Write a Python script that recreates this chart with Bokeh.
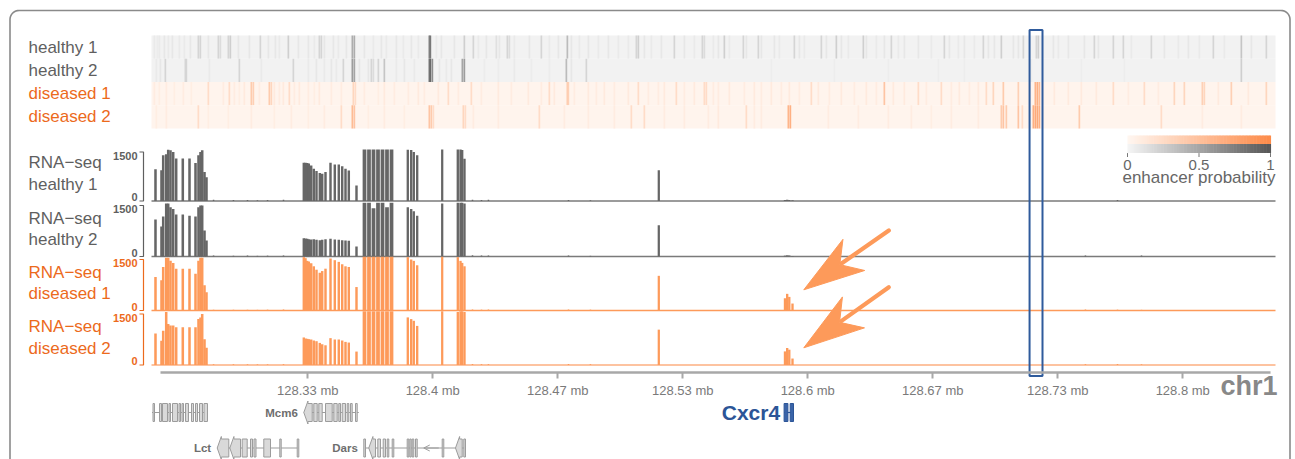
import numpy as np
from bokeh.plotting import figure
from bokeh.models import (Range1d, LinearAxis, FixedTicker, ColumnDataSource,
                          Arrow, OpenHead, CustomJSTickFormatter)
from bokeh.transform import linear_cmap
from bokeh.core.properties import value
from bokeh.embed import file_html
from bokeh.resources import INLINE

# ============================ DATA ============================
chrom_label = "chr1"
region_start_mb = 128.25
heat_bin_kb = 600.0 / 1125          # enhancer-probability bin size
heat_n_bins = 1124

tick_mb = [128.33333, 128.4, 128.46667, 128.53333, 128.6, 128.66667, 128.73333, 128.8]
tick_labels = ["128.33 mb", "128.4 mb", "128.47 mb", "128.53 mb",
               "128.6 mb", "128.67 mb", "128.73 mb", "128.8 mb"]

heat_labels = ["healthy 1", "healthy 2", "diseased 1", "diseased 2"]
# (bin, enhancer probability)
heat_healthy1 = [(2,.07),(5,.06),(7,.07),(12,.09),(16,.07),(20,.09),(27,.07),(32,.07),(38,.09),(46,.2),(48,.2),(56,.09),(66,.2),(68,.16),(76,.2),(78,.24),(86,.09),(97,.09),(108,.2),(116,.09),(123,.09),(127,.07),(136,.24),(146,.09),(156,.09),(162,.07),(167,.2),(169,.2),(172,.09),(181,.09),(186,.07),(194,.09),(200,.45),(202,.45),(212,.09),(221,.07),(229,.09),(234,.07),(244,.09),(251,.07),(259,.09),(266,.07),(277,.72),(278,.78),
    (284,.07),(289,.09),(302,.09),(312,.24),(321,.2),(326,.07),(334,.09),(344,.13),(347,.09),(355,.2),(357,.16),(362,.07),(377,.09),(389,.2),(397,.07),(406,.09),(415,.36),(419,.09),(427,.07),(436,.09),(446,.07),(456,.09),(466,.07),(476,.07),(484,.2),(486,.24),(492,.09),(499,.07),(509,.09),(522,.2),(532,.09),(542,.07),(550,.2),(552,.16),(561,.07),
    (566,.09),(572,.24),(577,.07),(591,.2),(594,.09),(606,.2),(609,.09),(622,.09),(627,.07),(642,.2),(647,.09),(652,.07),(669,.2),(674,.09),(684,.24),(689,.09),(696,.07),(711,.24),(714,.09),(724,.07),(732,.09),(739,.2),(746,.07),(752,.09),(766,.09),(779,.07),(792,.2),(797,.09),(806,.07),(812,.09),(822,.07),(831,.2),(836,.09),
    (842,.09),(849,.24),(861,.09),(866,.09),(871,.2),(884,.2),(886,.24),(901,.09),(906,.07),(916,.09),(932,.09),(942,.2),(946,.09),(961,.2),(971,.2),(979,.07),(999,.2),(1012,.09),(1026,.07),(1036,.09),(1047,.07),(1061,.2),(1072,.07),(1089,.3),(1099,.09),(1114,.2)]
heat_healthy2 = [(4,.07),(8,.09),(13,.2),(33,.2),(34,.2),(57,.07),(87,.2),(109,.07),(141,.2),(156,.07),(164,.09),(172,.07),(179,.09),(184,.07),(191,.2),(200,.55),(202,.5),(207,.09),(216,.09),(219,.2),(221,.16),(226,.2),(232,.3),(244,.07),(252,.09),(262,.07),(277,.78),(278,.88),(280,.65),
    (287,.09),(294,.07),(299,.09),(310,.5),(312,.55),(332,.06),(346,.06),(362,.07),(379,.06),(397,.06),(414,.36),(419,.09),(434,.2),
    (619,.05),(682,.05),(736,.05),(786,.05),(812,.05),(879,.05),(929,.05),(972,.05),(1089,.24)]
heat_diseased1 = [(2,.09),(7,.08),(14,.09),(22,.08),(31,.09),(39,.08),(56,.24),(71,.09),(77,.24),(82,.09),(87,.08),(92,.11),(99,.4),(101,.35),(107,.09),(117,.4),(119,.3),(122,.11),(127,.09),(131,.11),(137,.24),(142,.09),(147,.11),(156,.09),(162,.08),(167,.11),(179,.09),(189,.09),(201,.3),(203,.24),(212,.09),(226,.08),(232,.11),(242,.09),(256,.09),(266,.11),(272,.09),
    (286,.11),(296,.24),(306,.09),(319,.24),(329,.09),(346,.11),(359,.09),(376,.11),(389,.09),(397,.24),(402,.11),(415,.4),(416,.35),(422,.09),(436,.11),(444,.09),(452,.11),(462,.09),(476,.11),(486,.24),(496,.09),(506,.09),(512,.11),(524,.24),(532,.09),(542,.11),(552,.24),(554,.24),(561,.09),
    (566,.09),(577,.11),(592,.09),(602,.11),(609,.09),(619,.11),(629,.09),(637,.11),(647,.09),(659,.24),(666,.11),(677,.09),(689,.11),(702,.09),(714,.11),(724,.09),(732,.46),(741,.11),(752,.11),(766,.24),(774,.09),(789,.24),(799,.09),(807,.11),(817,.09),(826,.11),(834,.24),
    (841,.3),(851,.4),(866,.35),(883,.6),(885,.65),(887,.55),(902,.11),(916,.11),(929,.11),(944,.11),(961,.24),(976,.09),(992,.24),(1006,.09),(1022,.3),(1032,.3),(1050,.35),(1052,.3),(1066,.11),(1079,.35),(1096,.11),(1114,.3)]
heat_diseased2 = [(4,.08),(14,.09),(46,.24),(56,.08),(76,.08),(99,.09),(122,.08),(139,.09),(156,.08),(172,.09),(189,.24),(200,.55),(202,.46),(216,.08),(232,.09),(252,.08),(277,.46),(279,.4),
    (281,.24),(311,.3),(313,.24),(321,.09),(346,.09),(387,.24),(412,.09),(436,.09),(462,.09),(479,.24),(492,.24),(512,.09),(532,.09),(556,.09),(566,.11),
    (594,.24),(602,.09),(609,.09),(636,.6),(638,.65),(676,.09),(706,.09),(736,.09),(759,.09),(779,.08),(799,.09),(826,.09),
    (849,.4),(851,.46),(854,.4),(866,.46),(870,.24),(881,.65),(883,.7),(885,.7),(887,.65),(927,.4),(1009,.24),(1050,.09),(1089,.09)]

highlight_kb = (468.3, 475.2)

rna_labels = [("RNA\u2212seq", "healthy 1"), ("RNA\u2212seq", "healthy 2"),
              ("RNA\u2212seq", "diseased 1"), ("RNA\u2212seq", "diseased 2")]
exon_center_kb = [2.13, 5.33, 6.24, 7.84, 8.91, 10.13, 11.57, 13.17, 16.69, 20.27, 23.47, 25.07, 26.13, 27.04, 28.27, 29.33,
                  81.23, 82.13, 83.04, 83.89, 85.17, 86.56, 88.0, 89.76, 91.04, 92.8, 95.47, 97.76, 99.89, 101.71, 103.47, 105.23, 109.33,
                  113.6, 116.0, 118.4, 120.8, 123.2, 125.6, 128.0,
                  136.69, 138.5, 139.89, 141.7,
                  155.04,
                  163.36, 164.8, 165.7, 166.93,
                  270.56,
                  337.86, 339.03, 340.15, 341.87]
exon_width_kb = [1.35]*16 + [1.3]*17 + [2.0]*7 + [1.25]*4 + [1.2] + [1.25]*4 + [1.2] + [1.25]*4
rna_healthy1 = [970, 940, 1400, 1430, 1570, 1550, 1500, 1300, 1300, 1300, 1160, 1400, 1500, 1550, 885, 730,
                1170, 1170, 1160, 1150, 1090, 990, 915, 855, 835, 885, 1170, 1120, 1120, 1060, 990, 935, 475,
                1580, 1580, 1580, 1580, 1580, 1580, 1580,
                1570, 1560, 1500, 1400,
                1580,
                1580, 1580, 1560, 1290,
                940,
                30, 40, 30, 20]
rna_healthy2 = [1090, 880, 1180, 1560, 1560, 1450, 1400, 1235, 1235, 1200, 1180, 1450, 1500, 1500, 765, 470,
                540, 530, 520, 510, 500, 510, 490, 480, 490, 510, 520, 500, 490, 480, 470, 460, 295,
                1580, 1580, 1420, 1580, 1580, 1450, 1580,
                1450, 1400, 1330, 1200,
                1560,
                1580, 1580, 1580, 1560,
                920,
                25, 35, 30, 15]
rna_diseased1 = [985, 890, 1280, 1550, 1550, 1460, 1400, 1230, 1230, 1230, 1080, 1460, 1550, 1550, 740, 540,
                 1570, 1540, 1460, 1440, 1390, 1300, 1200, 1110, 1160, 1230, 1530, 1480, 1430, 1360, 1300, 1280, 690,
                 1580, 1580, 1580, 1580, 1580, 1580, 1580,
                 1570, 1500, 1460, 1330,
                 1580,
                 1570, 1460, 1400, 1300,
                 1020,
                 360, 490, 400, 205]
rna_diseased2 = [925, 710, 1005, 1560, 1205, 1160, 1160, 1110, 1110, 1110, 1110, 1350, 1400, 1500, 760, 510,
                 810, 780, 770, 760, 750, 720, 700, 650, 610, 580, 790, 750, 750, 720, 680, 660, 395,
                 1580, 1580, 1580, 1580, 1580, 1580, 1580,
                 1400, 1350, 1300, 1150,
                 1580,
                 1560, 1580, 1580, 1560,
                 1040,
                 400, 500, 450, 190]
low_kb = [33.1, 43.7, 51.2, 56.5, 61.9, 70.4, 171.2, 176.0, 179.7, 222.4, 234.1, 498.1, 515.2, 528.0]
low_healthy1 = [35, 30, 30, 25, 30, 35, 40, 30, 35, 30, 25, 0, 30, 0]
low_healthy2 = [30, 25, 30, 20, 25, 30, 35, 30, 30, 30, 20, 30, 0, 30]
low_diseased1 = [25, 20, 25, 20, 25, 30, 30, 25, 30, 30, 25, 30, 25, 20]
low_diseased2 = [25, 20, 25, 20, 20, 25, 30, 25, 25, 30, 25, 25, 30, 20]

gene_names = ["", "Mcm6", "Lct", "Dars", "Cxcr4"]
gene_row = [0, 0, 1, 1, 0]
gene_span_kb = [(0.27, 29.87), (81.23, 110.56), (35.04, 78.56), (113.23, 167.47), (337.39, 342.4)]
gene_exons_kb = [
    [(0.8, 1.6), (4.27, 5.33), (5.87, 8.53), (9.33, 10.13), (11.2, 13.87), (14.67, 15.47), (16.27, 17.07),
     (18.13, 19.73), (21.33, 22.4), (23.47, 24.53), (25.6, 27.2), (28.0, 29.87)],
    [(81.23, 85.71), (86.56, 88.37), (89.23, 91.04), (92.8, 96.37), (97.23, 99.04), (99.89, 100.8),
     (101.71, 103.47), (104.37, 105.23), (106.13, 107.04), (108.8, 109.71)],
    [(35.04, 41.23), (41.76, 47.47), (48.37, 51.04), (52.8, 53.87), (54.67, 55.73), (59.89, 63.47),
     (68.43, 69.17), (77.71, 78.56)],
    [(113.23, 114.13), (115.89, 119.47), (120.69, 122.13), (123.57, 124.8), (125.71, 126.56), (128.37, 129.23),
     (136.37, 137.23), (137.76, 138.5), (139.04, 139.89), (140.8, 141.71), (155.04, 155.89), (162.13, 165.71),
     (166.56, 167.47)],
    [(337.39, 339.41), (340.64, 342.4)],
]
gene_arrow_exons = [[], [0], [0, 1], [1, 11], []]
dars_strand_arrow_kb = (153.2, 145.2)

# ============================ LAYOUT / STYLE ============================
W, H = 1295, 459
PX_PER_MB = 1875.0
X0_PAGE = 151
FONT = value("Liberation Sans")
GREY_TXT = "#5f5f5f"
ORANGE_TXT = "#ec6a1c"
GREY_BAR = "#666666"
ORANGE_BAR = "#fd9a5a"


def mb(kb):
    return region_start_mb + np.asarray(kb, dtype=float) / 1000.0


def ramp(c0, c1, n=256):
    a = np.array([int(c0[i:i + 2], 16) for i in (1, 3, 5)], dtype=float)
    b = np.array([int(c1[i:i + 2], 16) for i in (1, 3, 5)], dtype=float)
    return ["#%02x%02x%02x" % tuple(np.round(a + (b - a) * t).astype(int)) for t in np.linspace(0, 1, n)]


grey_pal = ramp("#f5f5f5", "#555555")
orange_pal = ramp("#fff6f0", "#fd8a48")

x_start = region_start_mb - X0_PAGE / PX_PER_MB
p = figure(width=W, height=H, output_backend="svg", toolbar_location=None,
           x_axis_type=None, y_axis_type=None,
           x_range=Range1d(x_start, x_start + W / PX_PER_MB), y_range=Range1d(H, 0),
           min_border=0, outline_line_color=None,
           background_fill_color="white", border_fill_color="white")

heat_top, heat_bot = 35.0, 128.0
row_h = (heat_bot - heat_top) / 4
track_base = [200.5, 256.0, 310.0, 364.5]
track_h1500 = [49.0, 51.0, 51.0, 51.0]
extra_y = {"heat": Range1d(start=(heat_bot - H) / row_h, end=heat_bot / row_h)}
for i, (b, h) in enumerate(zip(track_base, track_h1500)):
    u = 1500.0 / h
    extra_y[f"t{i}"] = Range1d(start=(b - H) * u, end=b * u)
p.extra_y_ranges = extra_y
cb_left, cb_w = 1127.0, 143.0
p.extra_x_ranges = {"px": Range1d(0, W),
                    "cb": Range1d(-cb_left / cb_w, (W - cb_left) / cb_w)}

# ---------------- heatmap ----------------
heat_rows = [heat_healthy1, heat_healthy2, heat_diseased1, heat_diseased2]
pals = [grey_pal, grey_pal, orange_pal, orange_pal]
for r, (stripes, pal) in enumerate(zip(heat_rows, pals)):
    ri = 3 - r
    bins = [s[0] for s in stripes]
    vals = [s[1] for s in stripes]
    src = ColumnDataSource(dict(
        left=list(mb(np.array([0] + bins) * heat_bin_kb)),
        right=list(mb(np.array([heat_n_bins] + [b + 1.7 for b in bins]) * heat_bin_kb)),
        bottom=[ri] * (len(bins) + 1), top=[ri + 1] * (len(bins) + 1),
        v=[0.02] + vals))
    p.quad(left="left", right="right", bottom="bottom", top="top", source=src,
           y_range_name="heat", line_color=None,
           fill_color=linear_cmap("v", pal, 0, 1))
    p.text(x=[28], y=[ri + 0.5], text=[heat_labels[r]], x_range_name="px", y_range_name="heat",
           text_font=FONT, text_font_size="17px", text_baseline="middle",
           text_color=GREY_TXT if r < 2 else ORANGE_TXT)

# ---------------- colour legend ----------------
steps = np.linspace(0, 1, 101)
mids = (steps[:-1] + steps[1:]) / 2
for (y0, y1, pal) in [(135.0, 143.6, orange_pal), (143.6, 152.6, grey_pal)]:
    p.quad(left=list(steps[:-1]), right=list(steps[1:] + 0.004), top=[y0] * 100, bottom=[y1] * 100,
           fill_color=[pal[int(m * 255)] for m in mids], line_color=None, x_range_name="cb")
p.segment(x0=[0, 0.5, 1], x1=[0, 0.5, 1], y0=[152.6] * 3, y1=[156.5] * 3,
          line_color="#777777", line_width=1, x_range_name="cb")
p.text(x=[0, 0.5, 1], y=[164.5] * 3, text=["0", "0.5", "1"], x_range_name="cb",
       text_font=FONT, text_font_size="15px", text_align="center", text_baseline="middle",
       text_color="#666666")
p.text(x=[cb_left + cb_w / 2], y=[176.5], text=["enhancer probability"], x_range_name="px",
       text_font=FONT, text_font_size="17px", text_align="center", text_baseline="middle",
       text_color="#666666")

# ---------------- RNA-seq tracks ----------------
tracks = [rna_healthy1, rna_healthy2, rna_diseased1, rna_diseased2]
lows = [low_healthy1, low_healthy2, low_diseased1, low_diseased2]
base_cols = ["#7a7a7a", "#7a7a7a", ORANGE_BAR, "#fdc3a0"]
base_w = [1.4, 1.4, 1.4, 2.2]
c = np.array(exon_center_kb)
w = np.array(exon_width_kb)
for i, (vals, lowv) in enumerate(zip(tracks, lows)):
    yr = f"t{i}"
    col = GREY_BAR if i < 2 else ORANGE_BAR
    tcol = GREY_TXT if i < 2 else ORANGE_TXT
    p.segment(x0=[float(mb(0))], x1=[float(mb(heat_n_bins * heat_bin_kb))], y0=[0], y1=[0],
              y_range_name=yr, line_color=base_cols[i], line_width=base_w[i])
    src = ColumnDataSource(dict(left=list(mb(c - w / 2)), right=list(mb(c + w / 2)),
                                top=vals, bottom=[0] * len(vals)))
    p.quad(left="left", right="right", top="top", bottom="bottom", source=src,
           y_range_name=yr, fill_color=col, line_color=None)
    lk = np.array(low_kb)
    p.quad(left=list(mb(lk - 0.4)), right=list(mb(lk + 0.4)), top=lowv, bottom=[0] * len(lowv),
           y_range_name=yr, fill_color=col, line_color=None)
    # little y-scale bracket
    p.multi_line(xs=[[139, 143, 143, 139]], ys=[[1500, 1500, 0, 0]], x_range_name="px",
                 y_range_name=yr, line_color=tcol, line_width=1.2)
    p.text(x=[137, 137], y=[1500, 0], text=["1500", "0"], x_range_name="px", y_range_name=yr,
           text_font=FONT, text_font_size="11px", text_font_style="bold", text_align="right",
           text_baseline="middle", y_offset=[3.5, -4], text_color=tcol)
    b = track_base[i]
    p.text(x=[28, 28], y=[b - 38.5, b - 17], text=list(rna_labels[i]), x_range_name="px",
           text_font=FONT, text_font_size="17px", text_baseline="middle", text_color=tcol)

# ---------------- highlight box ----------------
p.quad(left=[float(mb(highlight_kb[0]))], right=[float(mb(highlight_kb[1]))], top=[29.5], bottom=[375.5],
       fill_color=None, line_color="#2f5b9c", line_width=2)

# ---------------- orange arrows ----------------
arrow_tail_px = [(888.3, 230.0), (888.3, 286.7)]
arrow_tip_px = [(803.3, 289.3), (803.3, 347.3)]
for (tx, ty), (hx, hy) in zip(arrow_tail_px, arrow_tip_px):
    d = np.array([tx - hx, ty - hy])
    u = d / np.linalg.norm(d)
    n = np.array([-u[1], u[0]])
    L, Wd = 61.0, 38.0
    tip = np.array([hx, hy])
    b1 = tip + L * u + Wd / 2 * n
    b2 = tip + L * u - Wd / 2 * n
    notch = tip + 0.72 * L * u
    p.line(x=[tx, notch[0] + 2 * u[0]], y=[ty, notch[1] + 2 * u[1]], x_range_name="px",
           line_color=ORANGE_BAR, line_width=4.2, line_cap="round")
    p.patch(x=[tip[0], b1[0], notch[0], b2[0]], y=[tip[1], b1[1], notch[1], b2[1]],
            x_range_name="px", fill_color=ORANGE_BAR, line_color=ORANGE_BAR, line_width=1)

# ---------------- genomic axis ----------------
fmt = CustomJSTickFormatter(args=dict(tick_vals=tick_mb, tick_labs=tick_labels), code="""
let best = 0;
for (let i = 0; i < tick_vals.length; i++) {
  if (Math.abs(tick_vals[i] - tick) < Math.abs(tick_vals[best] - tick)) best = i;
}
return tick_labs[best];
""")
ax = LinearAxis(ticker=FixedTicker(ticks=tick_mb), formatter=fmt, fixed_location=372,
                bounds=(float(mb(4.8)), float(mb(596.8))),
                axis_line_color="#a8a8a8", axis_line_width=2.5,
                major_tick_line_color="#a8a8a8", major_tick_line_width=2,
                major_tick_in=0, major_tick_out=6, minor_tick_line_color=None,
                major_label_text_font="Liberation Sans", major_label_text_font_size="13px",
                major_label_text_color="#7a7a7a", major_label_standoff=4)
p.add_layout(ax, "below")
p.text(x=[1277], y=[385], text=[chrom_label], x_range_name="px", text_font=FONT,
       text_font_size="27px", text_font_style="bold", text_align="right", text_baseline="middle",
       text_color="#888888")

# ---------------- gene models ----------------
row_y = [412.0, 447.5]
hh, ah, head_kb = 9.0, 11.5, 2.2
for g, name in enumerate(gene_names):
    yc = row_y[gene_row[g]]
    is_c = name == "Cxcr4"
    lc = "#2c5597" if is_c else "#9c9c9c"
    fc = "#3a64a8" if is_c else "#d9d9d9"
    s, e = gene_span_kb[g]
    p.segment(x0=[float(mb(s))], x1=[float(mb(e))], y0=[yc], y1=[yc], line_color=lc, line_width=1.2)
    boxes = [ex for k, ex in enumerate(gene_exons_kb[g]) if k not in gene_arrow_exons[g]]
    p.quad(left=[float(mb(a)) for a, _ in boxes], right=[float(mb(z)) for _, z in boxes],
           top=[yc - hh] * len(boxes), bottom=[yc + hh] * len(boxes),
           fill_color=fc, line_color=lc, line_width=1)
    for k in gene_arrow_exons[g]:
        a, z = gene_exons_kb[g][k]
        xs = [float(v) for v in mb([a, a + head_kb, a + head_kb, z, z, a + head_kb, a + head_kb])]
        ys = [yc, yc - ah, yc - hh, yc - hh, yc + hh, yc + hh, yc + ah]
        p.patch(x=xs, y=ys, fill_color=fc, line_color=lc, line_width=1)
    if name:
        p.text(x=[float(mb(s))], y=[yc], text=[name], x_offset=-4 if is_c else -6,
               text_font=FONT, text_font_size="21px" if is_c else "11.5px", text_font_style="bold",
               text_align="right", text_baseline="middle",
               text_color="#2c5597" if is_c else "#6e6e6e")

p.add_layout(Arrow(end=OpenHead(size=6, line_color="#9c9c9c", line_width=1),
                   x_start=float(mb(dars_strand_arrow_kb[0])), x_end=float(mb(dars_strand_arrow_kb[1])),
                   y_start=447.5, y_end=447.5, line_color="#9c9c9c", line_width=1))

# ---------------- rounded outer frame ----------------
r = 9.0
L_, R_, T_ = 9.5, 1289.5, 10.0
th1 = np.linspace(np.pi, 1.5 * np.pi, 12)
th2 = np.linspace(1.5 * np.pi, 2 * np.pi, 12)
bx = [L_] + list(L_ + r + r * np.cos(th1)) + list(R_ - r + r * np.cos(th2)) + [R_]
by = [470.0] + list(T_ + r + r * np.sin(th1)) + list(T_ + r + r * np.sin(th2)) + [470.0]
p.line(x=bx, y=by, x_range_name="px", line_color="#8a8a8a", line_width=1.6)

open("out.html", "w").write(file_html(p, INLINE))
